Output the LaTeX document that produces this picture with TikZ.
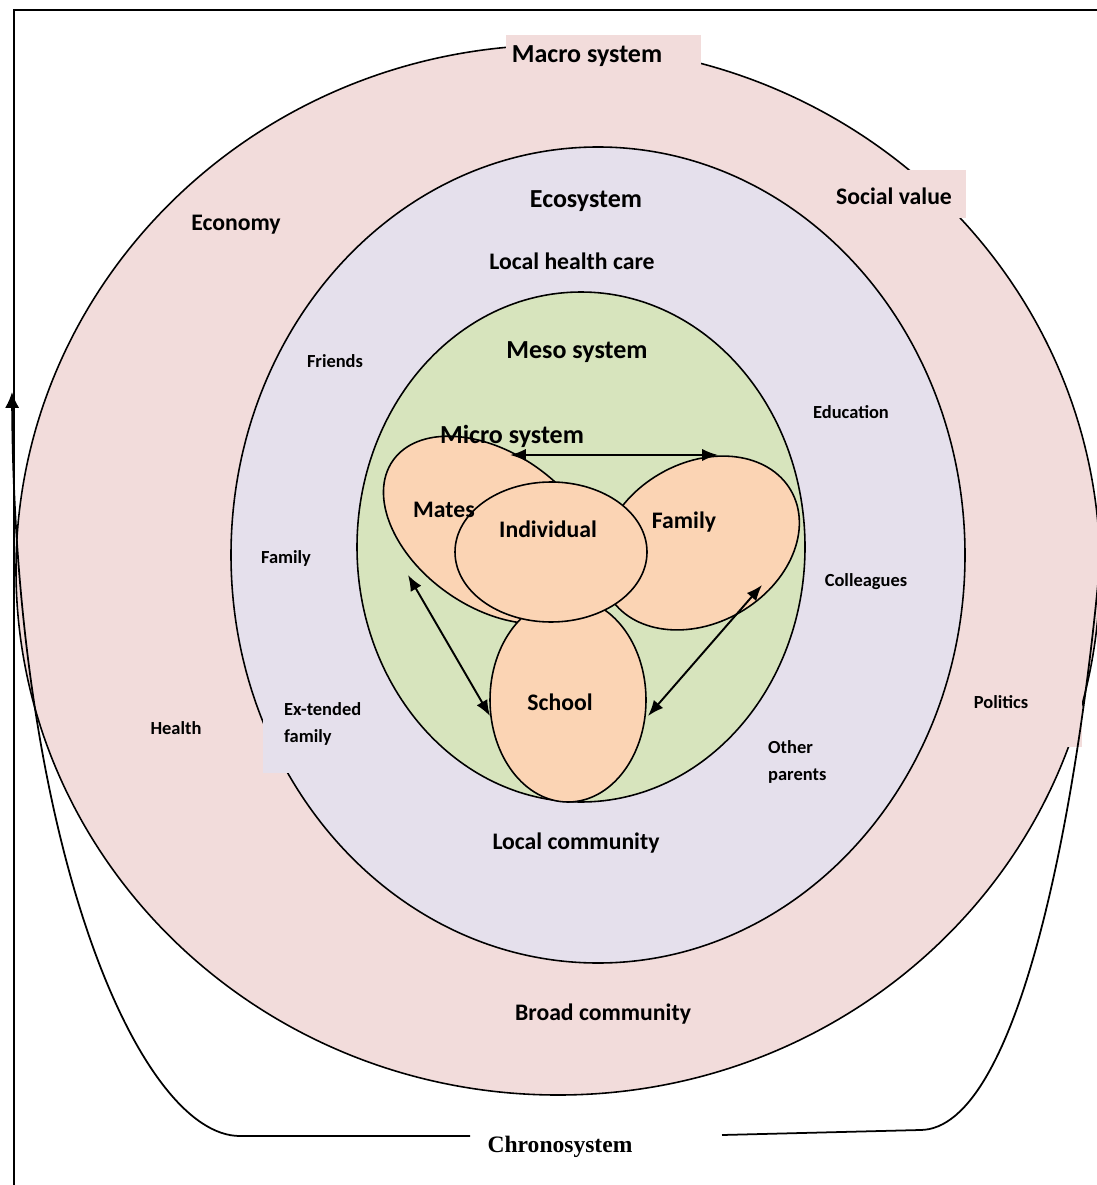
\documentclass[tikz,border=0pt]{standalone}
\usepackage{fontspec}
\setmainfont{Carlito}
\newfontfamily\timesfont{Liberation Serif}
\usetikzlibrary{arrows.meta}
\definecolor{macrofill}{HTML}{F2DCDB}
\definecolor{ecofill}{HTML}{E5E0EC}
\definecolor{mesofill}{HTML}{D7E4BD}
\definecolor{microfill}{HTML}{FBD4B4}
\begin{document}
\begin{tikzpicture}[x=0.02cm,y=-0.02cm]
\tikzset{
    ring/.style={draw=black, line width=0.9pt},
    micro/.style={ring, fill=microfill},
    big label/.style={font=\fontsize{14.8}{17}\selectfont\bfseries},
    mid label/.style={font=\fontsize{13.5}{16}\selectfont\bfseries},
    small label/.style={font=\fontsize{10.5}{15}\selectfont\bfseries, align=left},
    link/.style={line width=1.1pt, {Latex[length=9pt,width=7pt]}-{Latex[length=9pt,width=7pt]}},
    chrono line/.style={line width=1pt}}
\useasboundingbox (0,0) rectangle (1097,1185);

% frame
\draw[line width=1.4pt] (14,1190) |- (1100,10);

% macro, eco and meso rings
\draw[ring, fill=macrofill] (558,570) ellipse [x radius=542, y radius=525];
\fill[macrofill] (506,35) rectangle (701,72);
\fill[macrofill] (830,170) rectangle (966,218);
\fill[macrofill] (955,665) rectangle (1082,747);
\draw[ring, fill=ecofill] (598,555) ellipse [x radius=367, y radius=408];
\fill[ecofill] (263,695) rectangle (372,773);
\draw[ring, fill=mesofill] (581,547) ellipse [x radius=224, y radius=255];

% micro system
\draw[micro, rotate around={-35:(492,530)}] (492,530) ellipse [x radius=121, y radius=77];
\draw[micro, rotate around={30:(700,543)}] (700,543) ellipse [x radius=105, y radius=80];
\draw[micro] (568,700) ellipse [x radius=78, y radius=102];
\draw[micro] (551,552) ellipse [x radius=96, y radius=70];

% labels
\node[big label] (macro) at (587,56) {Macro system};
\node[big label] (eco) at (586,201) {Ecosystem};
\node[big label] (meso) at (577,352) {Meso system};
\node[big label] (microsys) at (512,436) {Micro system};

\node[mid label] (economy) at (236,225) {Economy};
\node[mid label] (social) at (894,196) {Social value};
\node[mid label] (health care) at (572,261) {Local health care};
\node[mid label] (mates) at (444,510) {Mates};
\node[mid label] (individual) at (548,529) {Individual};
\node[mid label] (family micro) at (684,522) {Family};
\node[mid label] (school) at (560,702) {School};
\node[mid label] (local) at (576,843) {Local community};
\node[mid label] (broad) at (603,1014) {Broad community};

\node[small label] (friends) at (335,361) {Friends};
\node[small label] (education) at (851,412) {Education};
\node[small label] (family eco) at (286,558) {Family};
\node[small label] (colleagues) at (866,582) {Colleagues};
\node[small label] (health) at (176,728) {Health};
\node[small label] (politics) at (1001,702) {Politics};
\node[small label, anchor=west] (extended) at (278,724) {Ex-tended\\family};
\node[small label, anchor=west] (parents) at (762,762) {Other\\parents};

% links between the micro settings
\coordinate (mates top) at (510,455);
\coordinate (family top) at (718,455);
\coordinate (mates low) at (408,575);
\coordinate (school left) at (490,716);
\coordinate (family low) at (762,585);
\coordinate (school right) at (648,716);
\draw[link] (mates top) -- (family top);
\draw[link] (mates low) -- (school left);
\draw[link] (family low) -- (school right);

% chronosystem
\node[font=\timesfont\bfseries\fontsize{13.4}{16}\selectfont] (chrono) at (560,1147) {Chronosystem};
\coordinate (chrono left) at (470,1136);
\coordinate (chrono right) at (722,1135);
\draw[chrono line, -{Latex[length=9pt,width=8pt]}] (chrono left) -- (240,1136)
    .. controls (140,1136) and (15,850) .. (12,392);
\draw[chrono line] (chrono right) -- (920,1130)
    .. controls (1020,1130) and (1080,800) .. (1102,540);

\end{tikzpicture}
\end{document}
